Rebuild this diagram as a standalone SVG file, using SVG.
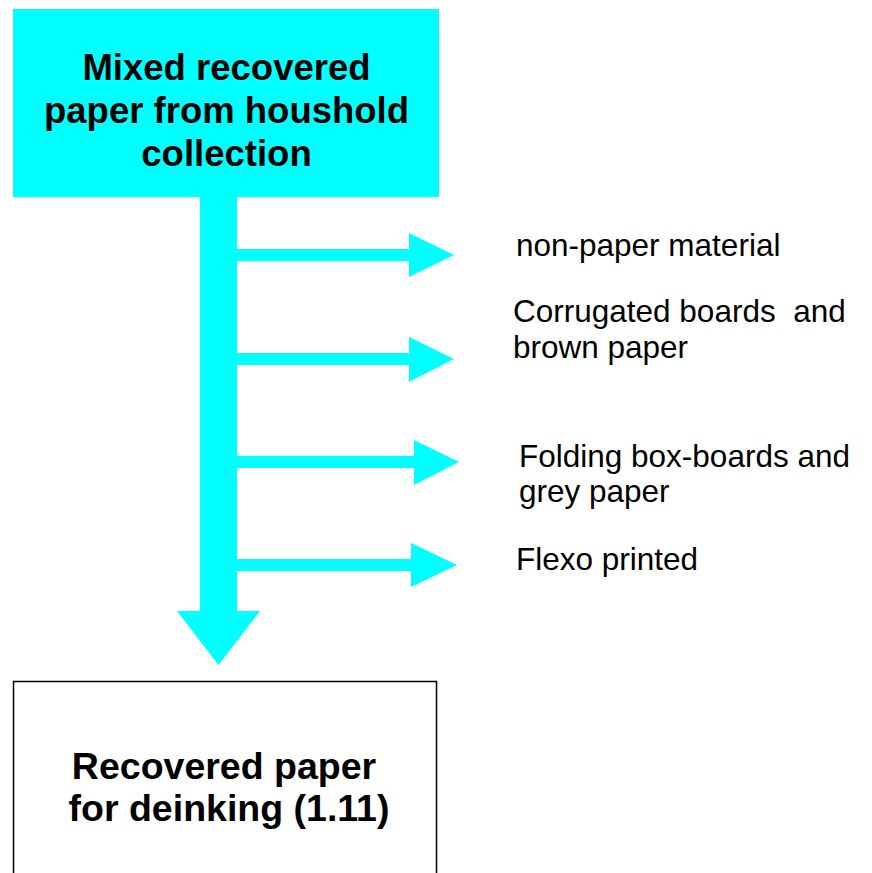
<svg xmlns="http://www.w3.org/2000/svg" width="872" height="873" viewBox="0 0 872 873">
<style>
.cy{fill:#00FFFF;stroke:none}
.title{font-family:"Liberation Sans",Arial,sans-serif;font-weight:bold;font-size:36.5px;fill:#000;text-anchor:middle}
.big{font-size:37.5px}
.lbl{font-family:"Liberation Sans",Arial,sans-serif;font-size:31.5px;fill:#000;white-space:pre}
</style>
<rect width="872" height="873" fill="#fff"/>
<g id="connectors">
<rect class="cy" x="200" y="196" width="37" height="416"/>
<polygon class="cy" points="177,611 260,611 218.5,665"/>
<rect class="cy" x="236" y="249" width="174" height="12"/>
<polygon class="cy" points="409,233 454,255 409,277"/>
<rect class="cy" x="236" y="353" width="174" height="12"/>
<polygon class="cy" points="409,337 454,359 409,382"/>
<rect class="cy" x="236" y="456" width="179" height="12"/>
<polygon class="cy" points="414,440 459,462 414,485"/>
<rect class="cy" x="236" y="559" width="176" height="12"/>
<polygon class="cy" points="411,543 457,565 411,587"/>
</g>
<g id="source">
<rect class="cy" x="13" y="9" width="426" height="188"/>
<text class="title" x="226.5" y="80">Mixed recovered</text>
<text class="title" x="226.5" y="123">paper from houshold</text>
<text class="title" x="226.5" y="166">collection</text>
</g>
<g id="target">
<rect x="13.5" y="681.5" width="423" height="220" fill="#fff" stroke="#000" stroke-width="1.5"/>
<text class="title big" x="224" y="779">Recovered paper</text>
<text class="title big" x="229" y="821">for deinking (1.11)</text>
</g>
<g id="out-nonpaper">
<text class="lbl" x="516" y="256">non-paper material</text>
</g>
<g id="out-corrugated">
<text class="lbl" x="513" y="322">Corrugated boards  and</text>
<text class="lbl" x="513" y="358">brown paper</text>
</g>
<g id="out-folding">
<text class="lbl" x="519" y="467">Folding box-boards and</text>
<text class="lbl" x="519" y="502">grey paper</text>
</g>
<g id="out-flexo">
<text class="lbl" x="516" y="570">Flexo printed</text>
</g>
</svg>
